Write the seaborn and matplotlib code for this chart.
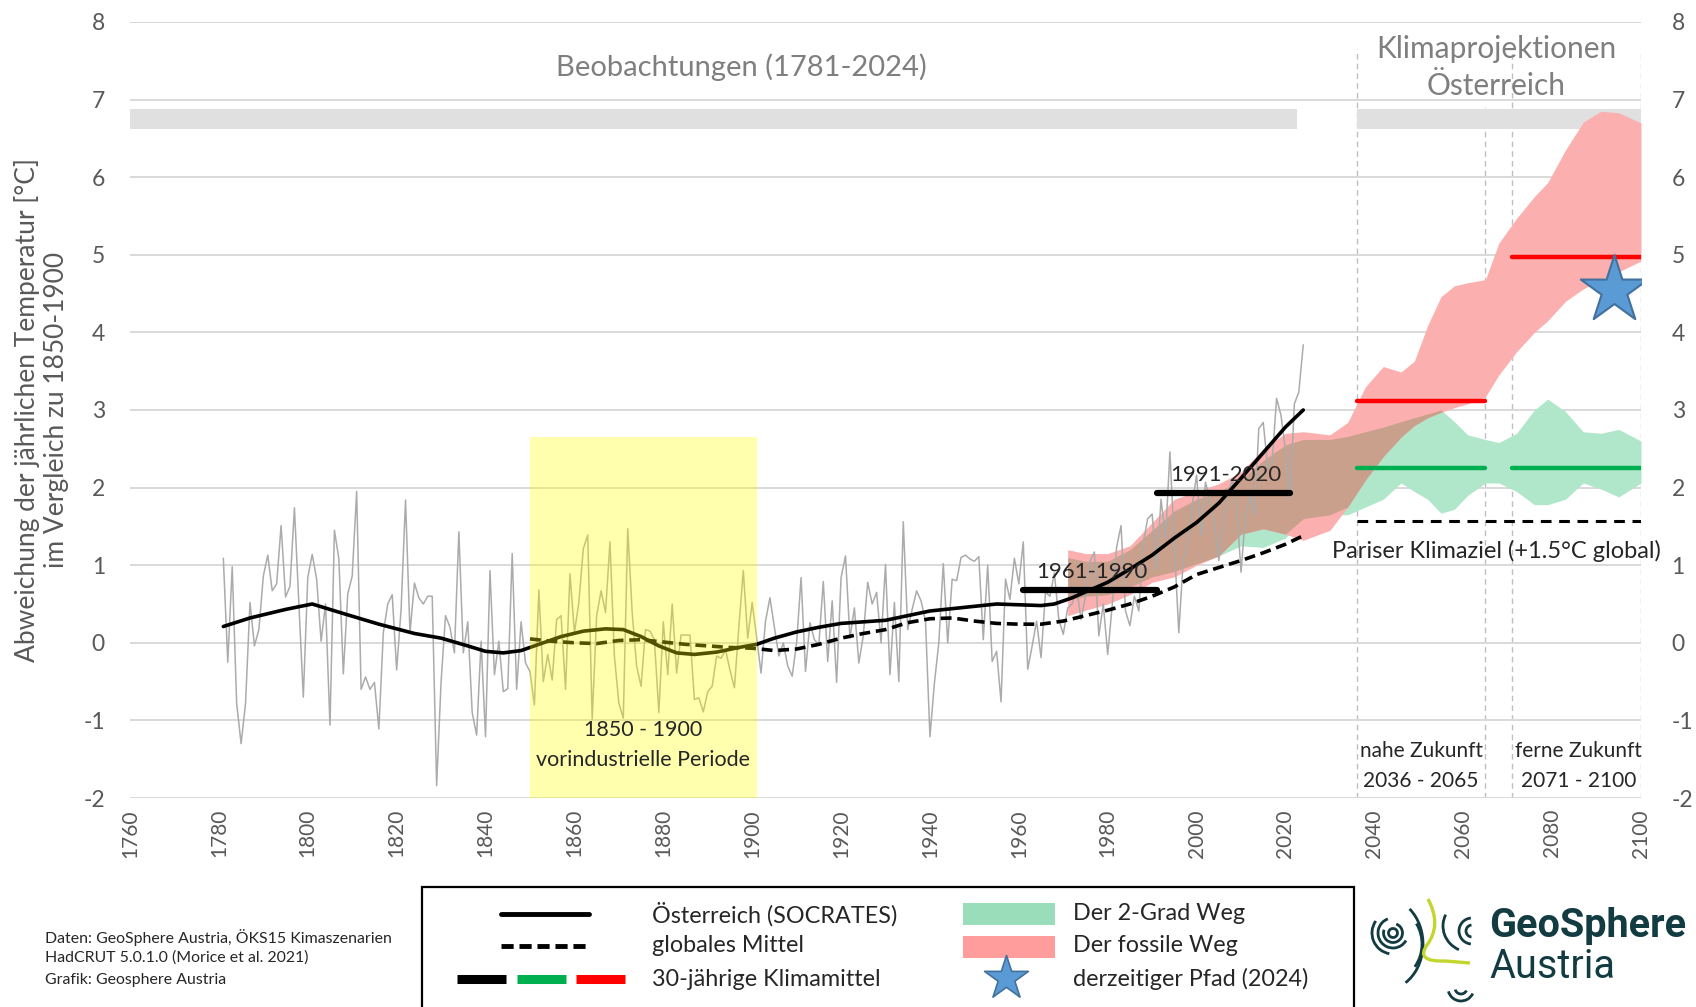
import numpy as np
import matplotlib
matplotlib.use("Agg")
import matplotlib.pyplot as plt
from matplotlib.patches import Rectangle, Arc
from matplotlib.path import Path
from matplotlib.patches import PathPatch
import seaborn as sns

# -------------------------
# Data
# -------------------------
years_obs = list(range(1781, 2025))
temp_obs = [
    1.09, -0.25, 0.98, -0.78, -1.30, -0.78, 0.52, -0.04, 0.17, 0.86,   # 1781-1790
    1.13, 0.67, 0.76, 1.51, 0.59, 0.73, 1.74, 0.50, -0.70, 0.84,       # 1791-1800
    1.14, 0.82, 0.02, 0.50, -1.06, 1.45, 1.08, -0.40, 0.63, 0.86,      # 1801-1810
    1.95, -0.60, -0.44, -0.60, -0.51, -1.11, 0.13, 0.50, 0.62, -0.35,  # 1811-1820
    0.43, 1.84, 0.13, 0.77, 0.58, 0.50, 0.60, 0.60, -1.84, -0.50,      # 1821-1830
    0.35, 0.20, -0.13, 1.43, -0.13, 0.27, -0.90, -1.19, 0.02, -1.21,   # 1831-1840
    0.93, -0.41, 0.02, -0.63, -0.59, 1.15, -0.60, 0.27, -0.26, -0.37,  # 1841-1850
    -0.80, 0.68, -0.50, -0.15, -0.48, 0.30, 0.35, -0.60, 0.89, 0.13,   # 1851-1860
    0.52, 1.21, 1.39, -0.99, 0.35, 0.67, 0.39, 1.30, -0.17, -0.78,     # 1861-1870
    -0.97, 1.47, 0.39, -0.30, -0.56, 0.17, 0.15, 0.04, -0.90, 0.27,    # 1871-1880
    -0.41, 0.50, -0.39, 0.10, 0.10, 0.10, -0.73, -0.71, -0.89, -0.63,  # 1881-1890
    -0.56, -0.17, -0.20, -0.09, -0.35, -0.58, 0.20, 0.93, 0.06, 0.52,  # 1891-1900
    0.06, -0.39, 0.28, 0.58, 0.20, -0.17, 0.00, -0.30, -0.43, 0.00,    # 1901-1910
    0.84, -0.37, 0.26, 0.04, -0.02, 0.79, -0.24, 0.54, -0.51, 0.84,    # 1911-1920
    1.12, 0.06, 0.45, -0.26, 0.09, 0.78, 0.50, 0.65, 0.00, 1.01,       # 1921-1930
    -0.41, 0.52, -0.50, 1.56, 0.17, 0.43, 0.67, 0.54, 0.28, -1.21,     # 1931-1940
    -0.52, 0.00, 1.02, 0.00, 0.82, 0.80, 1.10, 1.13, 1.08, 1.05,       # 1941-1950
    1.11, 0.04, 1.00, -0.24, -0.11, -0.76, 0.82, 0.56, 1.09, 0.76,     # 1951-1960
    1.30, -0.34, -0.04, 0.28, -0.19, 0.65, 0.60, 0.90, 0.30, 0.11,     # 1961-1970
    0.45, 0.50, 0.70, 0.30, 0.60, 1.05, 1.17, 0.09, 0.50, -0.15,       # 1971-1980
    0.47, 1.23, 1.51, 0.41, 0.22, 0.60, 0.41, 1.29, 1.60, 1.66,        # 1981-1990
    0.95, 1.85, 1.34, 2.46, 1.25, 0.13, 1.08, 1.29, 1.77, 2.16,        # 1991-2000
    1.38, 2.07, 1.85, 1.55, 1.06, 1.53, 1.88, 2.11, 1.77, 0.91,        # 2001-2010
    1.64, 1.90, 1.64, 2.76, 2.84, 2.26, 2.33, 3.15, 2.93, 2.48,        # 2011-2020
    1.85, 3.08, 3.23, 3.84,                                            # 2021-2024
]

# smoothed Austria (SOCRATES)
aut_years = [1781, 1787, 1795, 1801, 1805, 1809, 1816, 1824, 1830, 1836, 1840, 1844,
             1848, 1852, 1857, 1862, 1867, 1871, 1875, 1879, 1883, 1887, 1892, 1897,
             1901, 1905, 1910, 1915, 1920, 1925, 1930, 1935, 1940, 1945, 1950, 1955,
             1960, 1965, 1968, 1972, 1976, 1980, 1985, 1990, 1995, 2000, 2005, 2010,
             2015, 2020, 2024]
aut_smooth = [0.21, 0.32, 0.43, 0.50, 0.43, 0.36, 0.24, 0.12, 0.06, -0.04, -0.11, -0.13,
              -0.10, -0.02, 0.08, 0.15, 0.18, 0.17, 0.08, -0.04, -0.13, -0.15, -0.12, -0.06,
              -0.02, 0.06, 0.14, 0.20, 0.25, 0.27, 0.29, 0.35, 0.41, 0.44, 0.47, 0.50,
              0.49, 0.48, 0.50, 0.58, 0.68, 0.78, 0.95, 1.13, 1.35, 1.55, 1.80, 2.12,
              2.45, 2.78, 3.00]

# global mean (HadCRUT)
glob_years = [1850, 1855, 1860, 1865, 1870, 1875, 1880, 1885, 1890, 1895, 1900, 1905,
              1910, 1915, 1920, 1925, 1930, 1935, 1940, 1945, 1950, 1955, 1960, 1965,
              1970, 1975, 1980, 1985, 1990, 1995, 2000, 2005, 2010, 2015, 2020, 2024]
glob_mean = [0.05, 0.02, 0.00, -0.01, 0.03, 0.04, 0.01, -0.02, -0.04, -0.06, -0.07, -0.10,
             -0.08, -0.02, 0.06, 0.12, 0.17, 0.26, 0.31, 0.32, 0.28, 0.25, 0.24, 0.24,
             0.28, 0.35, 0.42, 0.50, 0.60, 0.72, 0.88, 0.97, 1.06, 1.16, 1.27, 1.38]

# scenario bands
band_years = [1971, 1975, 1980, 1985, 1990, 1995, 2000, 2005, 2010, 2015, 2020, 2024,
              2030, 2034, 2038, 2042, 2046, 2049, 2052, 2055, 2058, 2061, 2065, 2068,
              2072, 2076, 2079, 2083, 2087, 2091, 2095, 2100]
fossil_hi = [1.20, 1.15, 1.15, 1.25, 1.55, 1.85, 1.95, 2.05, 2.20, 2.50, 2.70, 2.72,
             2.68, 2.84, 3.30, 3.56, 3.49, 3.63, 4.09, 4.46, 4.60, 4.64, 4.68, 5.15,
             5.47, 5.75, 5.93, 6.35, 6.71, 6.85, 6.83, 6.70]
fossil_lo = [0.35, 0.42, 0.50, 0.62, 0.78, 0.85, 1.00, 1.12, 1.40, 1.47, 1.40, 1.32,
             1.45, 1.75, 2.10, 2.40, 2.65, 2.80, 2.90, 2.97, 3.03, 3.08, 3.17, 3.45,
             3.75, 4.00, 4.15, 4.40, 4.56, 4.68, 4.78, 4.92]
twodeg_hi = [1.10, 1.05, 1.05, 1.20, 1.45, 1.70, 1.85, 1.95, 2.10, 2.35, 2.55, 2.62,
             2.62, 2.66, 2.72, 2.78, 2.85, 2.90, 2.95, 3.00, 2.85, 2.68, 2.62, 2.58,
             2.70, 3.00, 3.14, 2.98, 2.72, 2.70, 2.75, 2.60]
twodeg_lo = [0.55, 0.60, 0.62, 0.72, 0.85, 0.92, 1.02, 1.12, 1.25, 1.23, 1.35, 1.60,
             1.65, 1.65, 1.75, 1.85, 2.06, 1.95, 1.85, 1.67, 1.72, 1.90, 2.06, 2.06,
             1.95, 1.78, 1.78, 1.85, 2.06, 1.98, 1.88, 2.06]

# 30-year climate means
obs_periods = [(1961, 1991), (1991, 2021)]
obs_means = [0.68, 1.93]
obs_labels = ["1961-1990", "1991-2020"]
proj_periods = [(2036, 2065), (2071, 2100)]
fossil_means = [3.12, 4.97]
twodeg_means = [2.25, 2.25]
paris_target = 1.57
star_year = 2094
star_value = 4.55
preind_period = (1850, 1901)

C_FOSSIL = "#fcafaf"
C_TWODEG = "#b0e6c9"
C_OVERLAP = "#c9a08c"
C_GRAY_TXT = "#7f7f7f"
C_TICK = "#595959"

# -------------------------
# Figure
# -------------------------
sns.set_style("white")
plt.rcParams["font.family"] = ["Lato", "DejaVu Sans"]
plt.rcParams["axes.unicode_minus"] = False

W, H = 1696, 1007
fig = plt.figure(figsize=(W / 100, H / 100), dpi=100)
ax = fig.add_axes([130 / W, 1 - 798 / H, (1641 - 130) / W, (798 - 22) / H])

# bands
ax.fill_between(band_years, twodeg_lo, twodeg_hi, color=C_TWODEG, lw=0, zorder=1)
ax.fill_between(band_years, fossil_lo, fossil_hi, color=C_FOSSIL, lw=0, zorder=1.1)
ov_lo = np.maximum(fossil_lo, twodeg_lo)
ov_hi = np.minimum(fossil_hi, twodeg_hi)
ax.fill_between(band_years, ov_lo, ov_hi, where=ov_hi > ov_lo, interpolate=True,
                color=C_OVERLAP, lw=0, zorder=1.2)

# annual values and smoothed curves
sns.lineplot(x=years_obs, y=temp_obs, ax=ax, color="#ababab", lw=1.1, zorder=2)
sns.lineplot(x=aut_years, y=aut_smooth, ax=ax, color="black", lw=2.6, zorder=3)
sns.lineplot(x=glob_years, y=glob_mean, ax=ax, color="black", lw=2.6,
             linestyle=(0, (3, 1.6)), zorder=3)

# 30-year means
for (a, b), v, lab in zip(obs_periods, obs_means, obs_labels):
    ax.plot([a, b], [v, v], color="black", lw=4.5, solid_capstyle="round", zorder=4)
    ax.text((a + b) / 2 + 0.5, v + 0.1, lab, ha="center", va="bottom", fontsize=16, zorder=6)
for (a, b), vf, vg in zip(proj_periods, fossil_means, twodeg_means):
    ax.plot([a, b], [vf, vf], color="#ff0000", lw=3.2, solid_capstyle="round", zorder=4)
    ax.plot([a, b], [vg, vg], color="#00b050", lw=3.2, solid_capstyle="round", zorder=4)
ax.plot([proj_periods[0][0], proj_periods[1][1]], [paris_target, paris_target],
        color="black", lw=2.2, linestyle=(0, (3.5, 2.5)), zorder=4)
ax.scatter([star_year], [star_value], marker="*", s=2600, color="#5b9bd5",
           edgecolor="#41719c", linewidth=1.5, zorder=5)

# pre-industrial overlay
ax.add_patch(Rectangle((preind_period[0], -2), preind_period[1] - preind_period[0], 4.65,
                       facecolor="#ffff00", alpha=0.32, lw=0, zorder=5))
ax.text(1875.5, -1.13, "1850 - 1900", ha="center", va="center", fontsize=15.5, zorder=6)
ax.text(1875.5, -1.51, "vorindustrielle Periode", ha="center", va="center", fontsize=15.5, zorder=6)

# header boxes and period separators
ax.add_patch(Rectangle((1760, 6.62), 2022.5 - 1760, 0.26, facecolor="#e0e0e0", lw=0, zorder=1))
ax.add_patch(Rectangle((2036, 6.62), 2100 - 2036, 0.26, facecolor="#e0e0e0", lw=0, zorder=1))
ax.vlines([2036, 2071, 2100], -2, 7.65, color="#bfbfbf", lw=1, linestyle=(0, (4, 3)), zorder=0.5)
ax.vlines([2065], -2, 6.9, color="#bfbfbf", lw=1, linestyle=(0, (4, 3)), zorder=0.5)

ax.text(1897.5, 7.42, "Beobachtungen (1781-2024)", ha="center", va="center",
        fontsize=21, color=C_GRAY_TXT)
ax.text(2067.5, 7.65, "Klimaprojektionen", ha="center", va="center", fontsize=21.5, color=C_GRAY_TXT)
ax.text(2067.5, 7.17, "Österreich", ha="center", va="center", fontsize=21.5, color=C_GRAY_TXT)
ax.text(2067.5, 1.19, "Pariser Klimaziel (+1.5°C global)", ha="center", va="center", fontsize=17)
ax.text(2050.5, -1.4, "nahe Zukunft", ha="center", va="center", fontsize=15)
ax.text(2050.5, -1.78, "2036 - 2065", ha="center", va="center", fontsize=15)
ax.text(2086, -1.4, "ferne Zukunft", ha="center", va="center", fontsize=15)
ax.text(2086, -1.78, "2071 - 2100", ha="center", va="center", fontsize=15)

# axes styling
ax.set_xlim(1760, 2100)
ax.set_ylim(-2, 8)
ax.set_xticks(range(1760, 2101, 20))
ax.set_yticks(range(-2, 9))
ax.grid(axis="y", color="#d9d9d9", lw=1.4, zorder=0)
ax.set_axisbelow(True)
for s in ax.spines.values():
    s.set_visible(False)
ax.tick_params(axis="x", rotation=90, labelsize=15, labelcolor=C_TICK, length=0, pad=8)
ax.tick_params(axis="y", labelsize=16.5, labelcolor=C_TICK, length=0, pad=18)
ax.set_ylabel("Abweichung der jährlichen Temperatur [°C]\nim Vergleich zu 1850-1900",
              fontsize=19, color=C_TICK, labelpad=10, linespacing=1.2)
ax.set_xlabel("")

ax_r = ax.twinx()
ax_r.set_ylim(-2, 8)
ax_r.set_yticks(range(-2, 9))
ax_r.tick_params(axis="y", labelsize=16.5, labelcolor=C_TICK, length=0, pad=22)
for s in ax_r.spines.values():
    s.set_visible(False)

# -------------------------
# Legend, credits and logo (pixel overlay)
# -------------------------
ov = fig.add_axes([0, 0, 1, 1], zorder=10)
ov.set_xlim(0, W)
ov.set_ylim(H, 0)
ov.axis("off")

ov.add_patch(Rectangle((422, 887), 932, 130, facecolor="white", edgecolor="black", lw=1.6))
rows = [914, 946, 979]
ov.plot([501, 589], [rows[0], rows[0]], color="black", lw=3.5)
ov.plot([501, 589], [rows[1], rows[1]], color="black", lw=3.5, linestyle=(0, (2.5, 1.2)))
for (x0, x1), c in zip([(457, 506), (517, 566), (576, 625)], ["black", "#00b050", "#ff0000"]):
    ov.plot([x0, x1], [rows[2], rows[2]], color=c, lw=6.5, solid_capstyle="butt")
ov.add_patch(Rectangle((963, 903), 92, 22, facecolor="#99ddbb", lw=0))
ov.add_patch(Rectangle((963, 936), 92, 22, facecolor="#ff9c9c", lw=0))
ov.scatter([1006], [978], marker="*", s=1100, color="#5b9bd5", edgecolor="#41719c", linewidth=1.2)
leg_txt1 = ["Österreich (SOCRATES)", "globales Mittel", "30-jährige Klimamittel"]
leg_txt2 = ["Der 2-Grad Weg", "Der fossile Weg", "derzeitiger Pfad (2024)"]
for y, t1, t2 in zip(rows, leg_txt1, leg_txt2):
    ov.text(652, y, t1, va="center", ha="left", fontsize=16.8)
    ov.text(1073, y, t2, va="center", ha="left", fontsize=16.8)

credits = ["Daten: GeoSphere Austria, ÖKS15 Kimaszenarien",
           "HadCRUT 5.0.1.0 (Morice et al. 2021)",
           "Grafik: Geosphere Austria"]
for y, t in zip([937, 958, 980], credits):
    ov.text(45, y, t, va="center", ha="left", fontsize=11.4)

# logo
teal = "#123c42"
lime = "#c2d62e"
ov.text(1489, 926, "GeoSphere", va="center", ha="left", fontsize=28.5, fontweight="bold",
        color=teal, family=["Roboto", "DejaVu Sans"])
ov.text(1489, 967, "Austria", va="center", ha="left", fontsize=28.5, color=teal,
        family=["Roboto", "DejaVu Sans"])
cx, cy = 1393, 933
ov.add_patch(Arc((cx, cy), 9, 9, theta1=0, theta2=360, color=teal, lw=2))
ov.add_patch(Arc((cx, cy), 19, 19, theta1=-70, theta2=200, color=teal, lw=2))
ov.add_patch(Arc((cx, cy), 30, 30, theta1=30, theta2=250, color=teal, lw=2))
ov.add_patch(Arc((cx, cy), 42, 42, theta1=100, theta2=215, color=teal, lw=2))
ov.add_patch(Arc((1385, 944), 76, 92, theta1=-55, theta2=62, color=teal, lw=2))
ov.add_patch(Arc((1392, 944), 60, 70, theta1=-40, theta2=45, color=teal, lw=2))
lime_path = Path([(1428, 899), (1442, 925), (1427, 945), (1415, 962), (1445, 961), (1470, 963)],
                 [Path.MOVETO, Path.CURVE3, Path.CURVE3, Path.CURVE3, Path.CURVE3, Path.LINETO])
ov.add_patch(PathPatch(lime_path, facecolor="none", edgecolor=lime, lw=2.4))
for r in (12, 26):
    ov.add_patch(Arc((1472, 931), r, r, theta1=95, theta2=265, color=teal, lw=2))
ov.add_patch(Arc((1470, 926), 54, 52, theta1=115, theta2=205, color=teal, lw=2))
for r in (12, 26):
    ov.add_patch(Arc((1461, 988), r, r, theta1=25, theta2=165, color=teal, lw=2))

fig.savefig("out.png", dpi=100)
